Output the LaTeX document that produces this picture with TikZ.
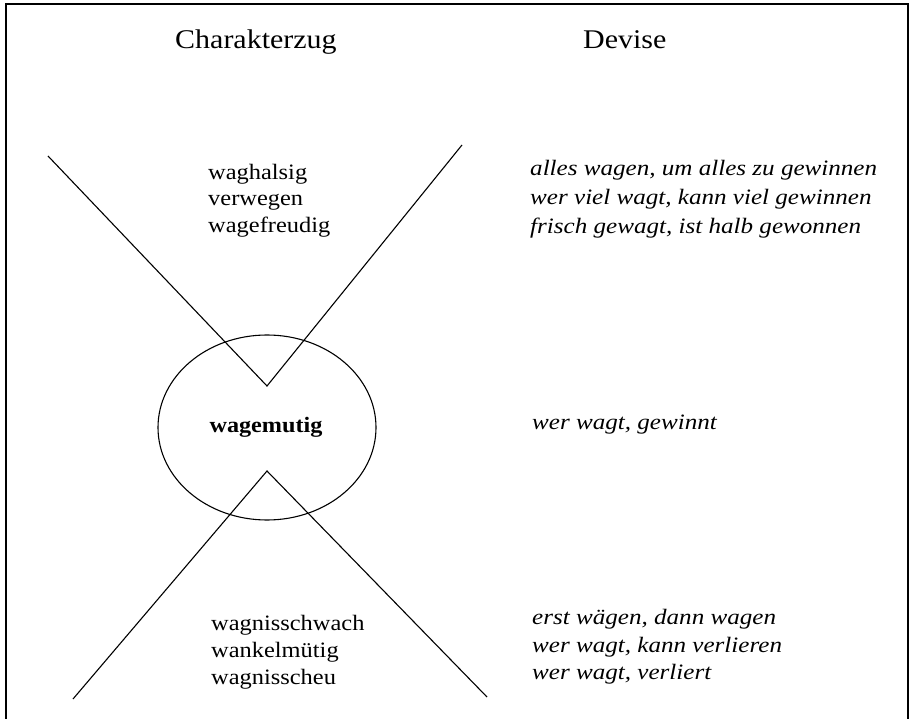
\documentclass[tikz,border=0pt]{standalone}
\usepackage{fontspec}
\usepackage{graphicx}
\setmainfont{Liberation Serif}
\usetikzlibrary{shapes.geometric}
\begin{document}
\begin{tikzpicture}[x={(1pt,0)},y={(0,-1pt)},
  headtxt/.style={inner sep=0, anchor=base west, font=\fontsize{27}{30}\selectfont, xscale=1.11},
  maintxt/.style={inner sep=0, anchor=base west, font=\fontsize{22}{26}\selectfont, xscale=1.11},
  devtxt/.style={inner sep=0, anchor=base west, font=\fontsize{22}{26}\selectfont\itshape, xscale=1.14},
  boldtxt/.style={inner sep=0, anchor=base, font=\fontsize{22}{26}\selectfont\bfseries, xscale=1.1},
  stroke/.style={line width=1.1pt, black},
  frame/.style={line width=2pt, black}]
\useasboundingbox (0,0) rectangle (911,719);
\draw[frame] (6,719) -- (6,4) -- (908,4) -- (908,719);
% headings
\node[headtxt] (h1) at (175,49) {Charakterzug};
\node[headtxt] (h2) at (583,49) {Devise};
% geometry
\coordinate (ul) at (48,156);
\coordinate (ur) at (462,145);
\coordinate (vt) at (267,386);
\coordinate (vb) at (267,471);
\coordinate (ll) at (73,699);
\coordinate (lr) at (487,697);
\draw[stroke] (ul) -- (vt) -- (ur);
\draw[stroke] (ll) -- (vb) -- (lr);
\node[draw, ellipse, line width=1.1pt, inner sep=0, minimum width=218pt, minimum height=185pt] (ell) at (267,427.5) {};
\node[boldtxt] (wm) at (266,432) {wagemutig};
% upper traits
\node[maintxt] (t1) at (208,180) {waghalsig};
\node[maintxt] (t2) at (208,206) {verwegen};
\node[maintxt] (t3) at (208,233) {wagefreudig};
% lower traits
\node[maintxt] (t4) at (211,630) {wagnisschwach};
\node[maintxt] (t5) at (211,657) {wankelmütig};
\node[maintxt] (t6) at (211,684) {wagnisscheu};
% mottos
\node[devtxt] (d1) at (530,176) {alles wagen, um alles zu gewinnen};
\node[devtxt] (d2) at (530,205) {wer viel wagt, kann viel gewinnen};
\node[devtxt] (d3) at (530,234) {frisch gewagt, ist halb gewonnen};
\node[devtxt] (d4) at (532,429) {wer wagt, gewinnt};
\node[devtxt] (d5) at (532,624) {erst wägen, dann wagen};
\node[devtxt] (d6) at (532,652) {wer wagt, kann verlieren};
\node[devtxt] (d7) at (532,679) {wer wagt, verliert};
\end{tikzpicture}
\end{document}
